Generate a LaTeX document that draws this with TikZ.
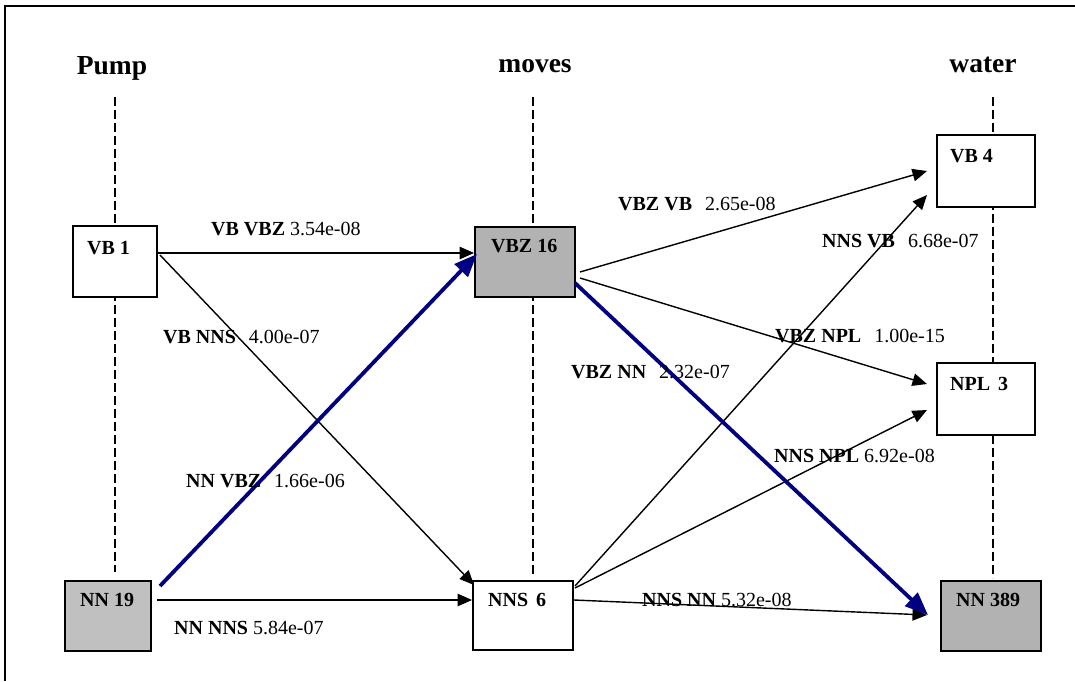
\documentclass[tikz,border=0pt]{standalone}
\usepackage{fontspec}
\setmainfont{Liberation Serif}
\usetikzlibrary{arrows.meta}
\definecolor{navyblue}{RGB}{0,0,128}
\definecolor{grayA}{RGB}{192,192,192}
\definecolor{grayB}{RGB}{178,178,178}
\newcommand{\wgap}{\hspace{0.65em}}
\begin{document}
\begin{tikzpicture}[x=1pt,y=-1pt,
  box/.style={draw, line width=2pt, fill=white, inner sep=0pt},
  boxtext/.style={anchor=base west, inner sep=0pt, font=\fontsize{20}{24}\selectfont\bfseries},
  head/.style={anchor=base, inner sep=0pt, font=\fontsize{27.5}{30}\selectfont\bfseries},
  lab/.style={anchor=base west, inner sep=0pt, font=\fontsize{20}{24}\selectfont},
  edge/.style={line width=1.4pt, -{Triangle[length=14.5pt,width=12.5pt]}},
  hot/.style={draw=navyblue, line width=3.8pt, -{Triangle[length=23pt,width=18pt]}},
  guide/.style={line width=1.5pt, dash pattern=on 9pt off 4pt}]
\useasboundingbox (0,0) rectangle (1075,681);
% frame
\draw[line width=2pt] (5,681) -- (5,6) -- (1075,6);
% headings
\node[head] (hpump) at (112,74) {Pump};
\node[head] (hmoves) at (535,72) {moves};
\node[head] (hwater) at (983,72) {water};
% guide lines
\coordinate (gp1) at (115,97);  \coordinate (gp2) at (115,572);
\coordinate (gm1) at (533,97);  \coordinate (gm2) at (533,575);
\coordinate (gw1) at (993,97);  \coordinate (gw2) at (993,578);
\draw[guide] (gp1) -- (gp2);
\draw[guide] (gm1) -- (gm2);
\draw[guide] (gw1) -- (gw2);
% boxes
\node[box, minimum width=84, minimum height=71] (vb1) at (115,261.5) {};
\node[box, fill=grayA, minimum width=86, minimum height=70] (nn19) at (108,616) {};
\node[box, fill=grayB, minimum width=100, minimum height=70] (vbz) at (525,262) {};
\node[box, minimum width=100, minimum height=69] (nns) at (523,615.5) {};
\node[box, minimum width=98, minimum height=72] (vb4) at (986,171) {};
\node[box, minimum width=98, minimum height=72] (npl) at (986,399) {};
\node[box, fill=grayB, minimum width=100, minimum height=70] (nn389) at (991,616) {};
% box texts
\node[boxtext] (tvb1) at ([shift={(15,29)}]vb1.north west) {VB 1};
\node[boxtext] (tnn19) at ([shift={(16,26)}]nn19.north west) {NN 19};
\node[boxtext] (tvbz) at ([shift={(17,26)}]vbz.north west) {VBZ 16};
\node[boxtext] (tnns) at ([shift={(16,26)}]nns.north west) {NNS\hspace{0.15em} 6};
\node[boxtext] (tvb4) at ([shift={(14,28)}]vb4.north west) {VB 4};
\node[boxtext] (tnpl) at ([shift={(14,28)}]npl.north west) {NPL\hspace{0.15em} 3};
\node[boxtext] (tnn389) at ([shift={(16,26)}]nn389.north west) {NN 389};
% connectors
\draw[edge] ([shift={(0,-8.5)}]vb1.east) -- ([shift={(0,-9)}]vbz.west);
\draw[edge] ([shift={(2,-6.5)}]vb1.east) -- ([shift={(2,5)}]nns.north west);
\draw[edge] ([shift={(5,-16)}]nn19.east) -- ([shift={(0,-15.5)}]nns.west);
\draw[edge] ([shift={(4,10)}]vbz.east) -- ([shift={(-9,0)}]vb4.west);
\draw[edge] ([shift={(4,16)}]vbz.east) -- ([shift={(-9,-15)}]npl.west);
\draw[edge] ([shift={(1,6)}]nns.north east) -- ([shift={(-9,24)}]vb4.west);
\draw[edge] ([shift={(1,8)}]nns.north east) -- ([shift={(-9,11)}]npl.west);
\draw[edge] ([shift={(0,-15.5)}]nns.east) -- ([shift={(-13,-1)}]nn389.west);
\draw[hot] ([shift={(8,6)}]nn19.north east) -- ([shift={(3,-8)}]vbz.west);
\draw[hot] ([shift={(-1,21)}]vbz.east) -- ([shift={(-12,-1)}]nn389.west);
% edge labels
\node[lab] (l1) at (211,235) {\textbf{VB VBZ} 3.54e-08};
\node[lab] (l2) at (163,343) {\textbf{VB NNS}\wgap 4.00e-07};
\node[lab] (l3) at (186,487) {\textbf{NN VBZ}\wgap 1.66e-06};
\node[lab] (l4) at (174,634) {\textbf{NN NNS} 5.84e-07};
\node[lab] (l5) at (618,210) {\textbf{VBZ VB}\wgap 2.65e-08};
\node[lab] (l6) at (775,342) {\textbf{VBZ NPL}\wgap 1.00e-15};
\node[lab] (l7) at (571,378) {\textbf{VBZ NN}\wgap 2.32e-07};
\node[lab] (l8) at (822,247) {\textbf{NNS VB}\wgap 6.68e-07};
\node[lab] (l9) at (774,462) {\textbf{NNS NPL} 6.92e-08};
\node[lab] (l10) at (642,606) {\textbf{NNS NN} 5.32e-08};
\end{tikzpicture}
\end{document}
